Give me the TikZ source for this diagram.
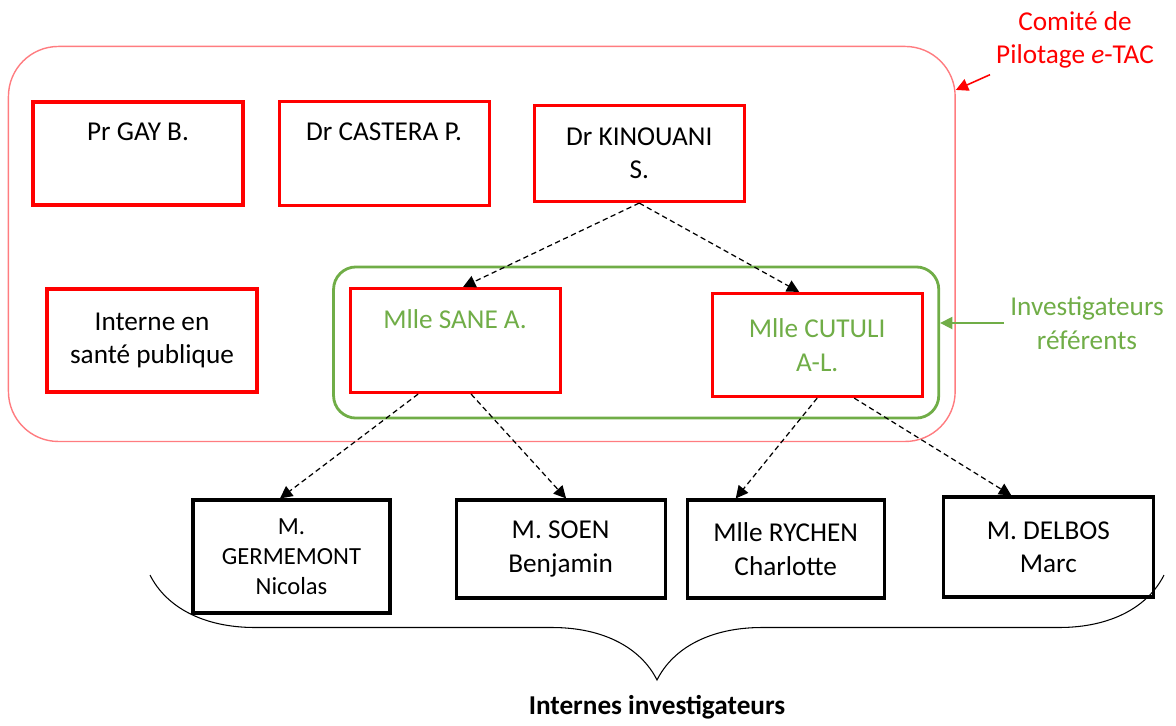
\documentclass[tikz,border=0pt]{standalone}
\usepackage{fontspec}
\setmainfont{Carlito}
\usetikzlibrary{positioning,fit,arrows.meta,decorations.pathreplacing}
\definecolor{rouge}{HTML}{FF0000}
\definecolor{saumon}{HTML}{FF7C80}
\definecolor{vert}{HTML}{70AD47}

\begin{document}
\begin{tikzpicture}[x=0.02cm,y=-0.02cm,
  every node/.style={font=\fontsize{15.5}{19}\selectfont,align=center},
  membre/.style={rectangle,draw=rouge,line width=1.8pt,minimum width=4.2cm,
    minimum height=2.06cm,inner sep=0pt},
  interne/.style={rectangle,draw=black,line width=1.8pt,minimum width=4.2cm,
    minimum height=1.96cm,inner sep=0pt},
  lien/.style={densely dashed,line width=0.7pt,-{Triangle[length=7pt,width=7pt]}},
  rappel/.style={line width=0.9pt,-{Triangle[length=7pt,width=7pt]}}]

\useasboundingbox (0,0) rectangle (1176,725);

\node (gay) [membre] at (138,153.5) {Pr GAY B.\\\strut};
\node (castera) [membre,right=0.66cm of gay,minimum height=2.08cm] {Dr CASTERA P.\\\strut};
\node (kinouani) [membre,right=0.84cm of castera,minimum height=1.92cm] {Dr KINOUANI\\S.};

\node (interne) [membre] at (152,340.5) {Interne en\\santé publique};
\node (sane) [membre,right=1.8cm of interne,minimum height=2.08cm,text=vert]
  {Mlle SANE A.\\\strut};
\node (cutuli) [membre,right=2.98cm of sane,yshift=-0.09cm,text=vert] {Mlle CUTULI\\A-L.};

\node (germemont) [interne,minimum width=3.94cm,minimum height=2.26cm,
  font=\fontsize{14}{17}\selectfont] at (291.5,556.5) {M.\\GERMEMONT\\Nicolas};
\node (soen) [interne,minimum width=4.18cm,right=1.26cm of germemont.north east,
  anchor=north west] {M. SOEN\\Benjamin};
\node (rychen) [interne,minimum width=3.94cm,right=0.38cm of soen.north east,
  anchor=north west] {Mlle RYCHEN\\Charlotte};
\node (delbos) [interne,minimum height=2cm,right=1.12cm of rychen.north east,
  anchor=north west,yshift=0.06cm] {M. DELBOS\\Marc};

\node (referents) [draw=vert,line width=1.6pt,rounded corners=0.45cm,inner xsep=0.3cm,
  inner ysep=0.4cm,fit={(sane) (cutuli)}] {};
\node (comite) [draw=saumon,line width=0.8pt,rounded corners=1cm,inner xsep=0.38cm,
  inner ysep=0.76cm,xshift=-0.08cm,yshift=0.32cm,
  fit={(gay) (kinouani) (interne) (referents)}] {};

\draw[lien] (kinouani.south) -- ([xshift=0.16cm]sane.north);
\draw[lien] (kinouani.south) -- ([xshift=-0.36cm]cutuli.north);
\draw[lien] ([xshift=-0.74cm]sane.south) -- ([xshift=-0.23cm]germemont.north);
\draw[lien] ([xshift=0.32cm]sane.south) -- ([xshift=0.11cm]soen.north);
\draw[lien] (cutuli.south) -- ([xshift=-1cm]rychen.north);
\draw[lien] ([xshift=0.74cm]cutuli.south) -- ([xshift=-0.74cm]delbos.north);

\node (comitelbl) [text=rouge] at (1075,40) {Comité de\\Pilotage \textit{e}-TAC};
\draw[rappel,rouge] (comitelbl.south west) -- (comite.18);
\node (reflbl) [text=vert] at (1087,323) {Investigateurs\\référents};
\draw[rappel,vert] (reflbl.west) -- (reflbl.west -| referents.east);

\coordinate (accoladeg) at (150,575);
\coordinate (accoladed) at (1164,575);
\draw[decorate,decoration={brace,mirror,amplitude=2.1cm},line width=0.6pt]
  (accoladeg) -- (accoladed);
\node (internes) [font=\bfseries\fontsize{15.5}{19}\selectfont] at (657,707)
  {Internes investigateurs};
\end{tikzpicture}
\end{document}
